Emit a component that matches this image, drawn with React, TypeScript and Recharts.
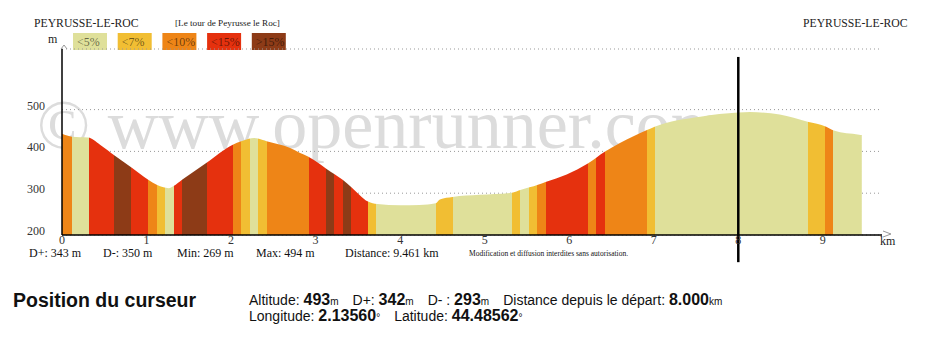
import React from 'react';
import { ComposedChart, Area, XAxis, YAxis, CartesianGrid, ReferenceLine } from 'recharts';

const SERIF = "'Liberation Serif', 'Times New Roman', serif";
const SANS = "'Liberation Sans', Arial, sans-serif";

// elevation profile (km from start, altitude in m)
const distanceKm = [
  0, 0.12, 0.31, 0.45, 0.63, 0.83, 1.02, 1.12, 1.2, 1.26, 1.32, 1.42, 1.71, 2.02, 2.12, 2.21, 2.27, 2.33,
  2.42, 2.7, 2.81, 2.91, 3.05, 3.13, 3.32, 3.42, 3.62, 3.73, 4.0, 4.23, 4.42, 4.47, 4.62, 4.94, 5.32, 5.43,
  5.63, 5.72, 5.97, 6.22, 6.42, 6.6, 6.92, 7.01, 7.55, 8.0, 8.14, 8.49, 8.82, 9.04, 9.13, 9.43, 9.461,
];
const altitudeM = [
  442, 435, 433, 416, 389, 360, 332, 320, 314, 312, 317, 332, 373, 416, 424, 430, 432, 430,
  424, 408, 397, 388, 370, 358, 332, 315, 280, 274, 271, 272, 276, 285, 291, 296, 301, 308,
  320, 327, 345, 371, 399, 420, 451, 459, 483, 493, 494, 488, 471, 459, 450, 440, 439,
];

// slope class of each stretch: end of stretch (km) and class index
const slopeEndKm = [
  0.12, 0.32, 0.62, 0.82, 1.02, 1.12, 1.22, 1.32, 1.42, 1.72, 2.02, 2.12, 2.22, 2.32, 2.42, 2.92, 3.12, 3.22, 3.32,
  3.42, 3.62, 3.72, 4.42, 4.62, 5.32, 5.42, 5.52, 5.62, 5.72, 6.22, 6.32, 6.42, 6.92, 7.02, 8.82, 9.02, 9.12, 9.461,
];
const slopeClass = [
  2, 0, 3, 4, 3, 2, 1, 0, 3, 4, 3, 2, 1, 0, 1, 2, 3, 4, 3,
  4, 3, 1, 0, 1, 0, 1, 0, 1, 2, 3, 2, 3, 2, 1, 0, 1, 2, 0,
];

const slopeLabels = ['<5%', '<7%', '<10%', '<15%', '>15%'];
const slopeColors = ['#dfe09a', '#f1be33', '#ee8517', '#e5310e', '#8d3b17'];

const xTicks = [0, 1, 2, 3, 4, 5, 6, 7, 8, 9];
const yTicks = [200, 300, 400, 500];

const cursorKm = 8;
const cursorSpan = [626, 135];

const summaryTexts = ['D+: 343 m', 'D-: 350 m', 'Min: 269 m', 'Max: 494 m', 'Distance: 9.461 km'];
const cursorLine1 = [
  { label: 'Altitude: ', value: '493', unit: 'm' },
  { label: 'D+: ', value: '342', unit: 'm' },
  { label: 'D- : ', value: '293', unit: 'm' },
  { label: 'Distance depuis le départ: ', value: '8.000', unit: 'km' },
];
const cursorLine2 = [
  { label: 'Longitude: ', value: '2.13560', unit: '°' },
  { label: 'Latitude: ', value: '44.48562', unit: '°' },
];

const data = distanceKm.map((km, i) => ({ km, alt: altitudeM[i] }));

const YTick = ({ x, y, payload }: any) => (
  <text x={x} y={y - 4} textAnchor="end" dominantBaseline="central" fontFamily={SERIF} fontSize={12} fill="#333">
    {payload.value}
  </text>
);

const XTick = ({ x, y, payload }: any) => (
  <text x={x} y={y + 9} textAnchor="middle" fontFamily={SERIF} fontSize={12} fill="#333">
    {payload.value}
  </text>
);

function InfoLine({ items, y }: { items: typeof cursorLine1; y: number }) {
  return (
    <text x={249} y={y} fontFamily={SANS} fill="#111">
      {items.map((it, i) => (
        <React.Fragment key={i}>
          <tspan dx={i === 0 ? 0 : 14} fontSize={14}>{it.label}</tspan>
          <tspan fontSize={16} fontWeight="bold">{it.value}</tspan>
          <tspan fontSize={10}>{it.unit}</tspan>
        </React.Fragment>
      ))}
    </text>
  );
}

export default function App() {
  const totalKm = distanceKm[distanceKm.length - 1];
  const stops: React.ReactNode[] = [];
  let start = 0;
  slopeEndKm.forEach((end, i) => {
    const c = slopeColors[slopeClass[i]];
    stops.push(<stop key={`a${i}`} offset={start / totalKm} stopColor={c} />);
    stops.push(<stop key={`b${i}`} offset={end / totalKm} stopColor={c} />);
    start = end;
  });

  const summaryX = [29, 103, 177, 256, 345];

  return (
    <div style={{ position: 'absolute', left: 0, top: 0, width: 940, height: 351, background: '#fff' }}>
      {/* watermark + titles + legend, behind the chart */}
      <svg width={940} height={351} style={{ position: 'absolute', left: 0, top: 0 }}>
        <text x={37} y={148} fontFamily={SERIF} fontSize={70} fill="#dcdcdc">© www.openrunner.com</text>

        <text x={34} y={27} fontFamily={SERIF} fontSize={11.7} fill="#222">PEYRUSSE-LE-ROC</text>
        <text x={175} y={26} fontFamily={SERIF} fontSize={9.2} fill="#222">[Le tour de Peyrusse le Roc]</text>
        <text x={803} y={27} fontFamily={SERIF} fontSize={11.7} fill="#222">PEYRUSSE-LE-ROC</text>

        <text x={48} y={43} fontFamily={SERIF} fontSize={12} fill="#222">m</text>
        <polyline points="61,49 64,45 67,49" fill="none" stroke="#999" strokeWidth={1} />
        <polyline points="883,231 891,234 883,237" fill="none" stroke="#999" strokeWidth={1} />
        <text x={880} y={245} fontFamily={SERIF} fontSize={12} fill="#222">km</text>

        {slopeLabels.map((lab, i) => (
          <g key={lab}>
            <rect x={73 + i * 44.7} y={33} width={34} height={17} fill={slopeColors[i]} />
            <text x={77 + i * 44.7} y={46} fontFamily={SERIF} fontSize={12} fill="rgba(0,0,0,0.55)">{lab}</text>
          </g>
        ))}

        {summaryTexts.map((t, i) => (
          <text key={t} x={summaryX[i]} y={257} fontFamily={SERIF} fontSize={12} fill="#111">{t}</text>
        ))}
        <text x={469} y={256} fontFamily={SERIF} fontSize={7.5} fill="#111">
          Modification et diffusion interdites sans autorisation.
        </text>

        <text x={13} y={307} fontFamily={SANS} fontSize={19.5} fontWeight="bold" fill="#111">Position du curseur</text>
        <InfoLine items={cursorLine1} y={305} />
        <InfoLine items={cursorLine2} y={321} />
      </svg>

      <div style={{ position: 'absolute', left: 0, top: 0 }}>
        <ComposedChart width={940} height={351} data={data} margin={{ top: 49, right: 58, bottom: 96, left: 22 }}>
          <defs>
            <linearGradient id="slopeFill" x1="0" y1="0" x2="1" y2="0">
              {stops}
            </linearGradient>
          </defs>
          <CartesianGrid vertical={false} stroke="#999" strokeDasharray="1 3" />
          <XAxis
            dataKey="km"
            type="number"
            domain={[0, 9.7]}
            ticks={xTicks}
            axisLine={{ stroke: '#000', strokeWidth: 1.5 }}
            tickLine={false}
            tickSize={0}
            tickMargin={0}
            height={20}
            tick={<XTick />}
          />
          <YAxis
            type="number"
            domain={[200, 645]}
            ticks={yTicks}
            axisLine={{ stroke: '#000', strokeWidth: 1.5 }}
            tickLine={false}
            tickSize={0}
            tickMargin={17}
            width={40}
            tick={<YTick />}
          />
          <Area
            dataKey="alt"
            type="monotone"
            stroke="none"
            fill="url(#slopeFill)"
            fillOpacity={1}
            isAnimationActive={false}
          />
          <ReferenceLine
            segment={[{ x: cursorKm, y: cursorSpan[0] }, { x: cursorKm, y: cursorSpan[1] }]}
            ifOverflow="visible"
            stroke="#000"
            strokeWidth={2.5}
          />
        </ComposedChart>
      </div>
    </div>
  );
}
